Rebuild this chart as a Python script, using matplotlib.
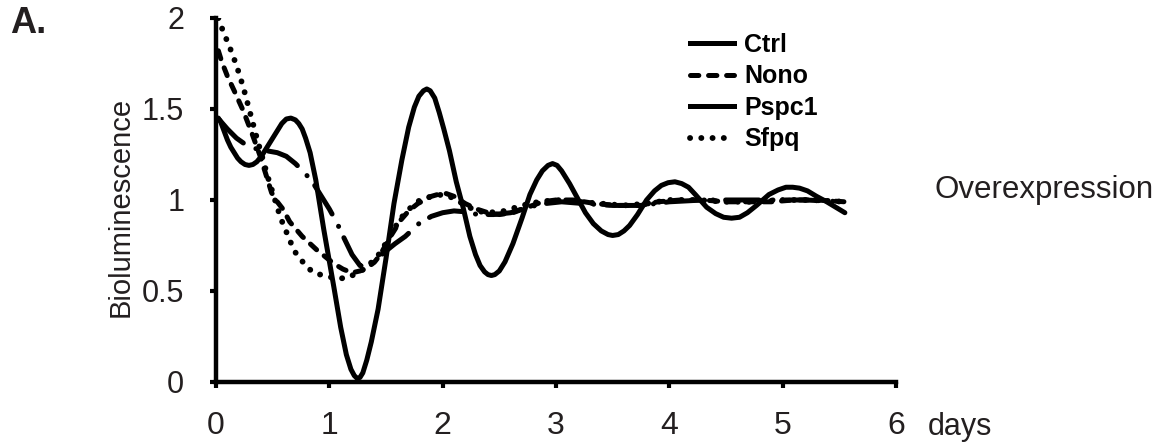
import matplotlib
matplotlib.use('Agg')
import matplotlib.pyplot as plt
from matplotlib.lines import Line2D

plt.rcParams['font.family'] = ['Liberation Sans', 'DejaVu Sans']
plt.rcParams['lines.scale_dashes'] = False

# values (days, relative bioluminescence)
ctrl_x = [0.02, 0.04, 0.07, 0.10, 0.13, 0.16, 0.19, 0.22, 0.255, 0.29, 0.325, 0.36,
          0.40, 0.43, 0.47, 0.50, 0.54, 0.58, 0.62, 0.66, 0.70, 0.73, 0.76, 0.79,
          0.83, 0.88, 0.95, 1.04, 1.10, 1.15, 1.19, 1.22, 1.245, 1.27, 1.295, 1.33,
          1.37, 1.43, 1.50, 1.57, 1.64, 1.70, 1.75, 1.79, 1.83, 1.86, 1.89, 1.93,
          1.97, 2.01, 2.06, 2.12, 2.18, 2.24, 2.29, 2.33, 2.37, 2.40, 2.43, 2.46,
          2.50, 2.55, 2.62, 2.70, 2.77, 2.83, 2.88, 2.93, 2.97, 3.01, 3.05, 3.12,
          3.19, 3.26, 3.33, 3.40, 3.46, 3.50, 3.55, 3.60, 3.65, 3.72, 3.80, 3.87,
          3.93, 3.99, 4.05, 4.11, 4.17, 4.23, 4.33, 4.41, 4.48, 4.55, 4.62, 4.69,
          4.77, 4.88, 4.96, 5.03, 5.09, 5.15, 5.22, 5.30, 5.39, 5.47, 5.55]
ctrl_y = [1.45, 1.43, 1.38, 1.33, 1.29, 1.26, 1.23, 1.21, 1.195, 1.19, 1.195, 1.21,
          1.24, 1.27, 1.31, 1.34, 1.38, 1.42, 1.445, 1.45, 1.44, 1.42, 1.39, 1.34,
          1.26, 1.11, 0.84, 0.52, 0.30, 0.15, 0.07, 0.035, 0.02, 0.025, 0.05, 0.12,
          0.22, 0.40, 0.68, 0.98, 1.22, 1.40, 1.51, 1.57, 1.60, 1.61, 1.60, 1.56,
          1.48, 1.39, 1.27, 1.10, 0.96, 0.80, 0.70, 0.64, 0.605, 0.59, 0.585, 0.59,
          0.61, 0.66, 0.76, 0.90, 1.03, 1.11, 1.16, 1.19, 1.20, 1.19, 1.16, 1.09,
          1.01, 0.93, 0.87, 0.83, 0.81, 0.805, 0.81, 0.83, 0.86, 0.92, 1.00, 1.05,
          1.08, 1.095, 1.10, 1.09, 1.07, 1.03, 0.96, 0.925, 0.905, 0.90, 0.905, 0.93,
          0.97, 1.03, 1.055, 1.07, 1.07, 1.065, 1.05, 1.02, 0.99, 0.96, 0.93]

nono_x = [0.02, 0.05, 0.10, 0.16, 0.24, 0.32, 0.39, 0.44, 0.49, 0.54, 0.59, 0.65,
          0.76, 0.89, 1.04, 1.12, 1.20, 1.27, 1.33, 1.40, 1.45, 1.54, 1.63, 1.70,
          1.78, 1.90, 2.01, 2.10, 2.20, 2.30, 2.40, 2.50, 2.62, 2.75, 2.88, 3.00,
          3.15, 3.35, 3.55, 3.75, 3.90, 4.10, 4.30, 4.50, 4.70, 4.90, 5.10, 5.30,
          5.55]
nono_y = [1.82, 1.76, 1.68, 1.60, 1.49, 1.36, 1.24, 1.14, 1.04, 0.99, 0.95, 0.88,
          0.80, 0.725, 0.65, 0.62, 0.60, 0.61, 0.625, 0.66, 0.70, 0.80, 0.89, 0.94,
          0.98, 1.02, 1.04, 1.02, 0.98, 0.95, 0.93, 0.92, 0.93, 0.96, 0.99, 1.00,
          1.00, 0.98, 0.97, 0.97, 0.99, 1.00, 1.00, 0.99, 0.99, 0.99, 1.00, 1.00,
          0.99]

pspc1_x = [0.03, 0.10, 0.18, 0.27, 0.36, 0.45, 0.54, 0.62, 0.70, 0.78, 0.85, 0.90,
           0.95, 1.00, 1.07, 1.13, 1.20, 1.27, 1.33, 1.40, 1.48, 1.58, 1.67, 1.79,
           1.90, 2.00, 2.10, 2.20, 2.31, 2.45, 2.60, 2.75, 2.90, 3.05, 3.25, 3.50,
           3.75, 4.00, 4.30, 4.60, 4.90, 5.20, 5.55]
pspc1_y = [1.44, 1.39, 1.34, 1.30, 1.28, 1.27, 1.26, 1.24, 1.20, 1.15, 1.10, 1.05,
           1.00, 0.95, 0.87, 0.79, 0.70, 0.64, 0.63, 0.66, 0.71, 0.76, 0.80, 0.87,
           0.91, 0.93, 0.94, 0.935, 0.92, 0.92, 0.93, 0.96, 0.98, 0.99, 0.98, 0.97,
           0.97, 0.99, 1.00, 1.00, 1.00, 1.00, 0.99]

sfpq_x = [0.02, 0.06, 0.12, 0.18, 0.24, 0.30, 0.36, 0.41, 0.46, 0.51, 0.57, 0.63,
          0.69, 0.79, 0.86, 0.95, 1.05, 1.15, 1.25, 1.33, 1.45, 1.55, 1.63, 1.72,
          1.80, 1.90, 2.00, 2.10, 2.20, 2.30, 2.40, 2.55, 2.70, 2.85, 3.00, 3.20,
          3.40, 3.60, 3.80, 4.00, 4.25, 4.50, 4.75, 5.00, 5.25, 5.55]
sfpq_y = [2.00, 1.93, 1.84, 1.74, 1.62, 1.48, 1.34, 1.23, 1.12, 1.02, 0.90, 0.81,
          0.72, 0.64, 0.60, 0.585, 0.57, 0.57, 0.60, 0.63, 0.71, 0.82, 0.90, 0.96,
          1.00, 1.02, 1.03, 1.01, 0.97, 0.94, 0.93, 0.94, 0.97, 0.99, 1.00, 0.99,
          0.98, 0.97, 0.98, 1.00, 1.00, 0.99, 0.99, 1.00, 1.00, 0.99]

series_labels = ['Ctrl', 'Nono', 'Pspc1', 'Sfpq']
x_ticks = [0, 1, 2, 3, 4, 5, 6]
y_ticks = [0, 0.5, 1, 1.5, 2]
y_tick_labels = ['0', '0.5', '1', '1.5', '2']

fig = plt.figure(figsize=(11.68, 4.45), dpi=100)
ax = fig.add_axes([0.185, 0.1416, 0.582, 0.818])

lw = 3.6
nono_dash = (6, 7)
pspc1_dash = (24, 10, 0.1, 9)
sfpq_dash = (0.1, 8)

ax.plot(ctrl_x, ctrl_y, color='black', lw=lw, solid_capstyle='round',
        solid_joinstyle='round')
ax.plot(nono_x, nono_y, color='black', lw=lw, dashes=nono_dash, dash_capstyle='round')
ax.plot(pspc1_x, pspc1_y, color='black', lw=lw, dashes=pspc1_dash,
        dash_capstyle='round')
ax.plot(sfpq_x, sfpq_y, color='black', lw=4.2, dashes=sfpq_dash, dash_capstyle='round')

ax.set_xlim(0, 6)
ax.set_ylim(0, 2)
for side in ['top', 'right']:
    ax.spines[side].set_visible(False)
for side in ['left', 'bottom']:
    ax.spines[side].set_linewidth(3.2)
    ax.spines[side].set_capstyle('projecting')

ax.set_xticks(x_ticks)
ax.set_xticklabels([str(t) for t in x_ticks], fontsize=23, color='#231f20')
ax.set_yticks(y_ticks)
ax.set_yticklabels(y_tick_labels, fontsize=22, color='#231f20')
ax.tick_params(axis='both', direction='out', length=4, width=3, color='black')
ax.tick_params(axis='x', pad=17)
ax.tick_params(axis='y', pad=19)

fig.text(0.103, 0.535, 'Bioluminescence', rotation=90, ha='center', va='center',
         fontsize=21, color='#231f20')
fig.text(0.794, 0.022, 'days', ha='left', va='baseline', fontsize=22,
         color='#231f20')
fig.text(0.80, 0.555, 'Overexpression', ha='left', va='baseline', fontsize=22.5,
         color='#231f20')
fig.text(0.009, 0.925, 'A.', ha='left', va='baseline', fontsize=26,
         fontweight='bold', color='#231f20')

handles = [
    Line2D([], [], color='black', lw=lw),
    Line2D([], [], color='black', lw=lw, dashes=nono_dash, dash_capstyle='round'),
    Line2D([], [], color='black', lw=lw),
    Line2D([], [], color='black', lw=4.2, dashes=sfpq_dash, dash_capstyle='round'),
]
fig.legend(handles, series_labels, loc='upper left', bbox_to_anchor=(0.591, 0.926),
           frameon=False, handlelength=1.75, handletextpad=0.4, labelspacing=0.3,
           borderpad=0, borderaxespad=0, prop={'weight': 'bold', 'size': 18})

fig.savefig('out.png', dpi=100)
